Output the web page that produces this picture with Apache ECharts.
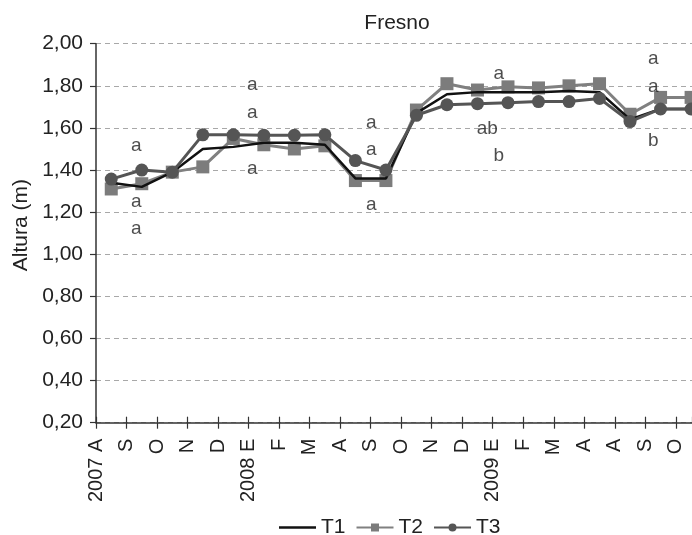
<!DOCTYPE html>
<html>
<head>
<meta charset="utf-8">
<script src="https://cdn.jsdelivr.net/npm/echarts@6/dist/echarts.min.js"></script>
<style>
html,body{margin:0;padding:0;background:#fff;}
#c{width:692px;height:535px;}
</style>
</head>
<body>
<div id="c"></div>
<script>
// Tick labels on the x axis (placed at band boundaries)
var tickLabels = ['2007 A','S','O','N','D','2008 E','F','M','A','S','O','N','D','2009 E','F','M','A','A','S','O'];
// Series values (Altura, m), one per measurement period
var T1 = [1.34, 1.32, 1.39, 1.50, 1.51, 1.53, 1.53, 1.52, 1.36, 1.36, 1.67, 1.76, 1.77, 1.77, 1.77, 1.775, 1.77, 1.64, 1.69, 1.69];
var T2 = [1.31, 1.335, 1.39, 1.415, 1.55, 1.52, 1.50, 1.515, 1.35, 1.35, 1.685, 1.81, 1.78, 1.795, 1.79, 1.80, 1.81, 1.665, 1.745, 1.745];
var T3 = [1.357, 1.40, 1.39, 1.567, 1.567, 1.565, 1.565, 1.567, 1.445, 1.40, 1.66, 1.71, 1.715, 1.72, 1.725, 1.725, 1.74, 1.63, 1.69, 1.69];
// Significance letters: text, x (axis units), y (m)
var letterText = ['a','a','a', 'a','a','a', 'a','a','a', 'a','ab','b', 'a','a','b'];
var letterX = [1.32,1.32,1.32, 5.12,5.12,5.12, 9.02,9.02,9.02, 13.2,12.82,13.2, 18.26,18.26,18.26];
var letterY = [1.514,1.249,1.120, 1.804,1.671,1.405, 1.625,1.498,1.234, 1.856,1.598,1.467, 1.927,1.796,1.538];

function pts(arr){ return arr.map(function(v,i){ return [i + 0.5, v]; }); }
var letters = letterText.map(function(t,i){ return {name:t, value:[letterX[i], letterY[i]]}; });

var FONT = 'Liberation Sans, Arial, sans-serif';
var chart = echarts.init(document.getElementById('c'), null, {renderer:'canvas'});
var xMax = 19.53;
chart.setOption({
  animation:false,
  backgroundColor:'#ffffff',
  title:{
    text:'Fresno', left:392, top:8, textAlign:'center',
    textStyle:{fontFamily:FONT, fontSize:21, fontWeight:'normal', color:'#222'}
  },
  legend:{
    data:[{name:'T1', icon:'path://M0,0H37V2.5H0Z'},'T2','T3'],
    symbolKeepAspect:true,
    left:274, top:512, itemWidth:37, itemHeight:10, itemGap:10,
    textStyle:{fontFamily:FONT, fontSize:21, color:'#222'}
  },
  grid:{left:96, right:0, top:43.7, bottom:112.3, containLabel:false},
  xAxis:[{
    type:'value', min:0, max:xMax, interval:1,
    axisLine:{onZero:false, lineStyle:{color:'#333', width:1.5}},
    axisTick:{show:true, length:6, lineStyle:{color:'#333', width:1.2}},
    axisLabel:{
      rotate:90, margin:16, fontFamily:FONT, fontSize:20, color:'#222',
      showMaxLabel:false,
      formatter:function(v){ var i = Math.round(v); return (Math.abs(v-i)<1e-6 && tickLabels[i]!==undefined) ? tickLabels[i] : ''; }
    },
    splitLine:{show:false}
  },{
    type:'value', min:0, max:xMax, interval:1, position:'bottom',
    axisLine:{show:false},
    axisTick:{show:true, inside:true, length:6, lineStyle:{color:'#333', width:1.2}},
    axisLabel:{show:false}, splitLine:{show:false}
  }],
  yAxis:{
    type:'value', min:0.2, max:2.0, interval:0.2,
    name:'Altura (m)', nameLocation:'middle', nameGap:62,
    nameTextStyle:{fontFamily:FONT, fontSize:21, color:'#222', padding:[0,0,0,16]},
    axisLine:{show:true, lineStyle:{color:'#333', width:1.5}},
    axisTick:{show:true, length:6, lineStyle:{color:'#333', width:1.2}},
    axisLabel:{margin:13, fontFamily:FONT, fontSize:21, color:'#222',
      formatter:function(v){ return v.toFixed(2).replace('.', ','); }},
    splitLine:{show:true, lineStyle:{color:'#a8a8a8', width:1, type:[5,4]}}
  },
  series:[
    {name:'T1', type:'line', data:pts(T1), symbol:'none',
     lineStyle:{color:'#111', width:2.5}, itemStyle:{color:'#111'}, z:3},
    {name:'T2', type:'line', data:pts(T2), symbol:'rect', symbolSize:13,
     lineStyle:{color:'#808080', width:3}, itemStyle:{color:'#7c7c7c'}, z:2},
    {name:'T3', type:'line', data:pts(T3), symbol:'circle', symbolSize:13,
     lineStyle:{color:'#555', width:3}, itemStyle:{color:'#555'}, z:4},
    {name:'letters', type:'scatter', data:letters, symbolSize:1,
     itemStyle:{color:'rgba(0,0,0,0)'}, silent:true, z:5,
     label:{show:true, position:'inside', formatter:function(p){return p.name;},
       fontFamily:FONT, fontSize:19, color:'#222'}}
  ]
});
</script>
</body>
</html>
